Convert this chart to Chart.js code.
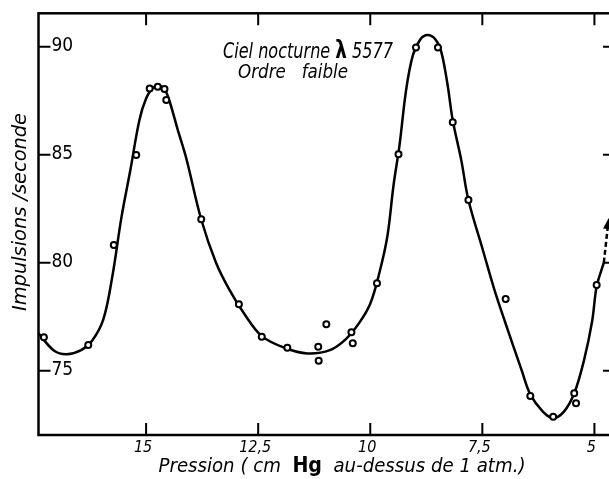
<!DOCTYPE html>
<html><head><meta charset="utf-8">
<script src="https://cdn.jsdelivr.net/npm/chart.js@4.4.1/dist/chart.umd.min.js"></script>
<style>html,body{margin:0;padding:0;background:#fff;overflow:hidden;width:609px;height:479px}canvas{display:block}</style>
</head><body><canvas id="c" width="620" height="479"></canvas>
<script>
// ---- data ----
const xTicks = [15, 12.5, 10, 7.5, 5];
const xTickLabels = ['15', '12,5', '10', '7,5', '5'];
const yTicks = [75, 80, 85, 90];
const yTickLabels = ['75', '80', '85', '90'];

// measured points (open circles)
const obsX = [17.28, 16.29, 15.72, 15.22, 14.92, 14.74, 14.59, 14.55, 13.77, 12.93, 12.42, 11.85, 11.16, 11.15, 10.98, 10.42, 10.39, 9.85, 9.37, 8.98, 8.49, 8.16, 7.81, 6.98, 6.43, 5.92, 5.45, 5.41, 4.95];
const obsY = [76.55, 76.19, 80.82, 84.99, 88.07, 88.15, 88.04, 87.53, 82.01, 78.07, 76.57, 76.06, 76.11, 75.46, 77.15, 76.78, 76.27, 79.05, 85.02, 89.97, 89.97, 86.5, 82.9, 78.32, 73.83, 72.87, 73.95, 73.49, 78.97];

// drawn smooth curve
const curveX = [17.40, 17.05, 16.77, 16.45, 16.20, 15.95, 15.75, 15.55, 15.35, 15.15, 15.00, 14.85, 14.70, 14.58, 14.48, 14.30, 14.10, 13.77, 13.44, 13.14, 12.80, 12.42, 11.90, 11.40, 10.90, 10.55, 10.25, 10.00, 9.80, 9.62, 9.48, 9.35, 9.20, 9.05, 8.88, 8.72, 8.55, 8.42, 8.28, 8.16, 7.97, 7.81, 7.49, 7.23, 7.00, 6.62, 6.43, 6.15, 5.92, 5.68, 5.45, 5.23, 5.05, 4.95, 4.79];
const curveY = [76.73, 75.92, 75.76, 75.95, 76.40, 77.40, 79.40, 82.10, 84.30, 86.60, 87.60, 88.10, 88.20, 88.00, 87.50, 86.20, 84.80, 82.00, 80.00, 78.74, 77.60, 76.60, 76.05, 75.80, 75.95, 76.45, 77.20, 78.10, 79.50, 81.20, 83.60, 85.40, 88.00, 89.60, 90.35, 90.54, 90.35, 89.80, 88.30, 86.60, 84.75, 82.90, 80.60, 78.74, 77.30, 75.00, 73.90, 73.10, 72.80, 73.10, 73.95, 75.50, 77.30, 78.90, 80.00];

// dashed continuation with arrow
const arrowX = [4.79, 4.70];
const arrowY = [80.0, 81.7];

const xMin = 4.63, xMax = 17.40, yMin = 72.02, yMax = 91.55;

const FONT = '"DejaVu Sans Condensed", "DejaVu Sans", sans-serif';

function pts(xs, ys) { return xs.map((x, i) => ({x: x, y: ys[i]})); }

function drawSegments(ctx, segs, x, y, targetW, align) {
  let total = 0;
  const ws = segs.map(s => { ctx.font = s.font; const w = ctx.measureText(s.text).width; total += w; return w; });
  const sx = targetW ? targetW / total : 1;
  ctx.save();
  ctx.translate(x, y);
  ctx.scale(sx, 1);
  let cx = align === 'center' ? -total / 2 : 0;
  ctx.textAlign = 'left';
  segs.forEach((s, i) => { ctx.font = s.font; ctx.fillText(s.text, cx, 0); cx += ws[i]; });
  ctx.restore();
}

const framePlugin = {
  id: 'frame',
  afterDraw(chart) {
    const ctx = chart.ctx, a = chart.chartArea;
    const xs = chart.scales.x, ys = chart.scales.y;
    ctx.save();
    ctx.strokeStyle = '#000';
    ctx.fillStyle = '#000';
    ctx.lineWidth = 2.5;
    ctx.strokeRect(a.left, a.top, a.right - a.left, a.bottom - a.top);
    ctx.lineWidth = 2;
    ctx.beginPath();
    xTicks.forEach(v => {
      const px = xs.getPixelForValue(v);
      ctx.moveTo(px, a.bottom); ctx.lineTo(px, a.bottom - 12);
      ctx.moveTo(px, a.top); ctx.lineTo(px, a.top + 12);
    });
    yTicks.forEach(v => {
      const py = ys.getPixelForValue(v);
      ctx.moveTo(a.left, py); ctx.lineTo(a.left + 12, py);
      ctx.moveTo(a.right, py); ctx.lineTo(a.right - 8, py);
    });
    ctx.stroke();

    // y tick labels (inside)
    ctx.textBaseline = 'middle';
    ctx.textAlign = 'left';
    ctx.font = '19px ' + FONT;
    yTicks.forEach((v, i) => {
      ctx.fillText(yTickLabels[i], a.left + 13, ys.getPixelForValue(v) - 0.5);
    });
    // x tick labels
    ctx.textAlign = 'center';
    ctx.font = 'italic 16px ' + FONT;
    xTicks.forEach((v, i) => {
      ctx.fillText(xTickLabels[i], xs.getPixelForValue(v) - 3, a.bottom + 13);
    });

    // arrow head on dashed continuation
    const p1x = xs.getPixelForValue(arrowX[0]), p1y = ys.getPixelForValue(arrowY[0]);
    const p2x = xs.getPixelForValue(arrowX[1]), p2y = ys.getPixelForValue(arrowY[1]);
    const ang = Math.atan2(p2y - p1y, p2x - p1x);
    ctx.save();
    ctx.translate(p2x, p2y);
    ctx.rotate(ang);
    ctx.beginPath();
    ctx.moveTo(8, 0); ctx.lineTo(-3, -4.5); ctx.lineTo(-3, 4.5); ctx.closePath();
    ctx.fill();
    ctx.restore();

    // axis titles
    ctx.textBaseline = 'alphabetic';
    drawSegments(ctx, [
      {text: 'Pression ( cm  ', font: 'italic 20px ' + FONT},
      {text: 'Hg', font: 'bold 21px ' + FONT},
      {text: '  au-dessus de 1 atm.)', font: 'italic 20px ' + FONT}
    ], 342, 472, 367, 'center');

    ctx.save();
    ctx.translate(26, 212);
    ctx.rotate(-Math.PI / 2);
    drawSegments(ctx, [{text: 'Impulsions /seconde', font: 'italic 20px ' + FONT}], 0, 0, 198, 'center');
    ctx.restore();

    // annotation
    drawSegments(ctx, [
      {text: 'Ciel nocturne ', font: 'italic 21px ' + FONT},
      {text: 'λ', font: 'bold 24px ' + FONT},
      {text: ' 5577', font: 'italic 21px ' + FONT}
    ], 223, 58, 170, 'left');
    drawSegments(ctx, [
      {text: 'Ordre   faible', font: 'italic 20px ' + FONT}
    ], 238, 78, 110, 'left');
    ctx.restore();
  }
};

new Chart(document.getElementById('c'), {
  type: 'scatter',
  data: {
    datasets: [
      {
        data: pts(obsX, obsY), order: 0, showLine: false,
        pointRadius: 3, pointBorderWidth: 2, pointBorderColor: '#000', pointBackgroundColor: '#fff', clip: false
      },
      {
        type: 'line', data: pts(curveX, curveY), order: 1, showLine: true,
        borderColor: '#000', borderWidth: 2.5, pointRadius: 0, tension: 0.35, fill: false, clip: false
      },
      {
        type: 'line', data: pts(arrowX, arrowY), order: 2, showLine: true,
        borderColor: '#000', borderWidth: 2.5, borderDash: [5, 3], pointRadius: 0, fill: false, clip: false
      }
    ]
  },
  options: {
    responsive: false, animation: false, devicePixelRatio: 1,
    layout: {padding: {left: 38.5, top: 13.3, right: 9, bottom: 44}},
    plugins: {legend: {display: false}, tooltip: {enabled: false}},
    scales: {
      x: {type: 'linear', reverse: true, min: xMin, max: xMax, display: false},
      y: {type: 'linear', min: yMin, max: yMax, display: false}
    }
  },
  plugins: [framePlugin]
});
</script>
</body></html>
